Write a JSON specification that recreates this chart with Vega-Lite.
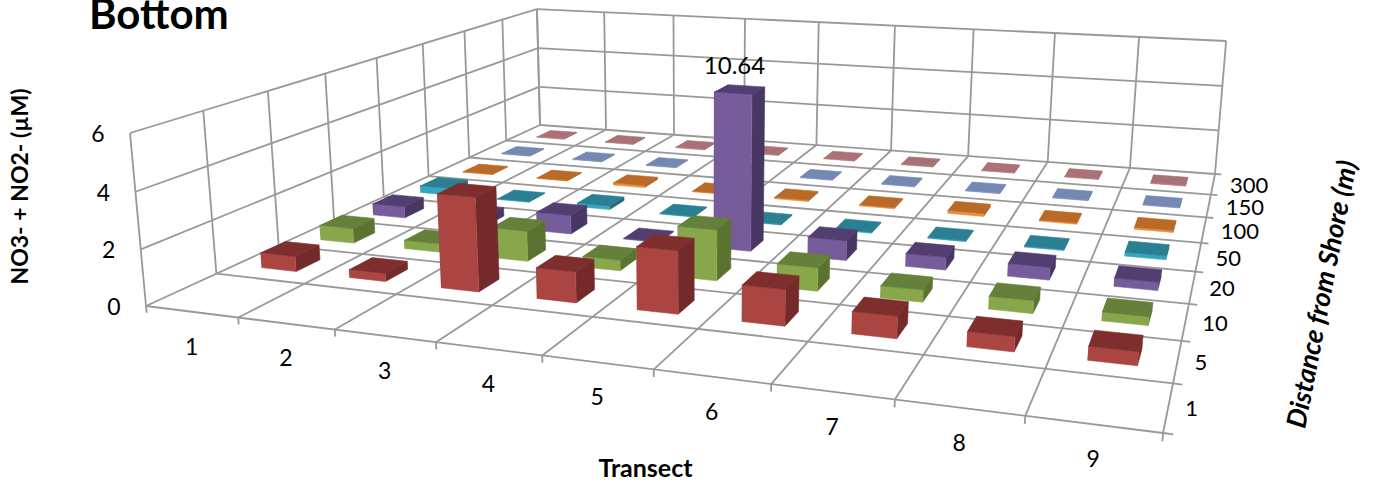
{
  "$schema": "https://vega.github.io/schema/vega-lite/v6.json",
  "width": 1377,
  "height": 482,
  "padding": 0,
  "autosize": {"type": "none"},
  "background": "white",
  "config": {"view": {"stroke": null}, "font": "Lato"},
  "datasets": {
    "bars": [
      {"transect":1,"distance":300,"value":0.03},{"transect":2,"distance":300,"value":0.03},{"transect":3,"distance":300,"value":0.03},{"transect":4,"distance":300,"value":0.03},{"transect":5,"distance":300,"value":0.03},{"transect":6,"distance":300,"value":0.03},{"transect":7,"distance":300,"value":0.03},{"transect":8,"distance":300,"value":0.03},{"transect":9,"distance":300,"value":0.03},
      {"transect":1,"distance":150,"value":0.03},{"transect":2,"distance":150,"value":0.03},{"transect":3,"distance":150,"value":0.03},{"transect":4,"distance":150,"value":0.03},{"transect":5,"distance":150,"value":0.03},{"transect":6,"distance":150,"value":0.03},{"transect":7,"distance":150,"value":0.03},{"transect":8,"distance":150,"value":0.03},{"transect":9,"distance":150,"value":0.03},
      {"transect":1,"distance":100,"value":0.03},{"transect":2,"distance":100,"value":0.03},{"transect":3,"distance":100,"value":0.1},{"transect":4,"distance":100,"value":0.03},{"transect":5,"distance":100,"value":0.06},{"transect":6,"distance":100,"value":0.05},{"transect":7,"distance":100,"value":0.12},{"transect":8,"distance":100,"value":0.05},{"transect":9,"distance":100,"value":0.08},
      {"transect":1,"distance":50,"value":0.3},{"transect":2,"distance":50,"value":0.03},{"transect":3,"distance":50,"value":0.15},{"transect":4,"distance":50,"value":0.03},{"transect":5,"distance":50,"value":0.03},{"transect":6,"distance":50,"value":0.04},{"transect":7,"distance":50,"value":0.04},{"transect":8,"distance":50,"value":0.04},{"transect":9,"distance":50,"value":0.15},
      {"transect":1,"distance":20,"value":0.47},{"transect":2,"distance":20,"value":0.35},{"transect":3,"distance":20,"value":0.75},{"transect":4,"distance":20,"value":0.03},{"transect":5,"distance":20,"value":10.64},{"transect":6,"distance":20,"value":0.75},{"transect":7,"distance":20,"value":0.48},{"transect":8,"distance":20,"value":0.47},{"transect":9,"distance":20,"value":0.3},
      {"transect":1,"distance":10,"value":0.58},{"transect":2,"distance":10,"value":0.32},{"transect":3,"distance":10,"value":1.15},{"transect":4,"distance":10,"value":0.4},{"transect":5,"distance":10,"value":1.87},{"transect":6,"distance":10,"value":0.85},{"transect":7,"distance":10,"value":0.43},{"transect":8,"distance":10,"value":0.45},{"transect":9,"distance":10,"value":0.3},
      {"transect":1,"distance":5,"value":0.57},{"transect":2,"distance":5,"value":0.3},{"transect":3,"distance":5,"value":3.4},{"transect":4,"distance":5,"value":1.1},{"transect":5,"distance":5,"value":2.2},{"transect":6,"distance":5,"value":1.25},{"transect":7,"distance":5,"value":0.75},{"transect":8,"distance":5,"value":0.5},{"transect":9,"distance":5,"value":0.45}
    ],
    "gridlines": [
      {"family":"floorT","tick":0},{"family":"floorT","tick":1},{"family":"floorT","tick":2},{"family":"floorT","tick":3},{"family":"floorT","tick":4},{"family":"floorT","tick":5},{"family":"floorT","tick":6},{"family":"floorT","tick":7},{"family":"floorT","tick":8},{"family":"floorT","tick":9},
      {"family":"floorD","tick":0},{"family":"floorD","tick":1},{"family":"floorD","tick":2},{"family":"floorD","tick":3},{"family":"floorD","tick":4},{"family":"floorD","tick":5},{"family":"floorD","tick":6},{"family":"floorD","tick":7},{"family":"floorD","tick":8},
      {"family":"leftD","tick":0},{"family":"leftD","tick":1},{"family":"leftD","tick":2},{"family":"leftD","tick":3},{"family":"leftD","tick":4},{"family":"leftD","tick":5},{"family":"leftD","tick":6},{"family":"leftD","tick":7},{"family":"leftD","tick":8},
      {"family":"leftZ","tick":2},{"family":"leftZ","tick":4},{"family":"leftZ","tick":6},
      {"family":"backZ","tick":2},{"family":"backZ","tick":4},{"family":"backZ","tick":6},
      {"family":"backT","tick":0},{"family":"backT","tick":1},{"family":"backT","tick":2},{"family":"backT","tick":3},{"family":"backT","tick":4},{"family":"backT","tick":5},{"family":"backT","tick":6},{"family":"backT","tick":7},{"family":"backT","tick":8},{"family":"backT","tick":9},
      {"family":"tickT","tick":0},{"family":"tickT","tick":1},{"family":"tickT","tick":2},{"family":"tickT","tick":3},{"family":"tickT","tick":4},{"family":"tickT","tick":5},{"family":"tickT","tick":6},{"family":"tickT","tick":7},{"family":"tickT","tick":8},{"family":"tickT","tick":9},
      {"family":"tickD","tick":0},{"family":"tickD","tick":1},{"family":"tickD","tick":2},{"family":"tickD","tick":3},{"family":"tickD","tick":4},{"family":"tickD","tick":5},{"family":"tickD","tick":6},{"family":"tickD","tick":7},{"family":"tickD","tick":8}
    ]
  },
  "encoding": {
    "x": {"field": "sx", "type": "quantitative", "scale": {"domain": [0, 1377], "nice": false, "zero": false},
      "axis": {"orient": "bottom", "domain": false, "ticks": false, "labels": false, "grid": false, "title": "Transect", "titleX": 645, "titleY": -14, "titleFont": "Lato", "titleFontSize": 25, "titleFontWeight": "bold", "titleColor": "#000000", "titleAnchor": "middle", "titleAlign": "center", "titleBaseline": "middle"}},
    "y": {"field": "sy", "type": "quantitative", "scale": {"domain": [482, 0], "nice": false, "zero": false},
      "axis": {"orient": "left", "domain": false, "ticks": false, "labels": false, "grid": false, "title": "NO3- + NO2- (µM)", "titleX": 20, "titleY": 186, "titleFont": "Lato", "titleFontSize": 23, "titleFontWeight": "bold", "titleColor": "#000000", "titleAngle": -90, "titleAlign": "center", "titleBaseline": "middle"}}
  },
  "layer": [
    {
      "data": {"name": "gridlines"},
      "transform": [
        {"calculate": "[0, 1]", "as": "end"},
        {"flatten": ["end"]},
        {"calculate": "datum.family == 'floorT' || datum.family == 'backT' || datum.family == 'tickT' ? datum.tick / 9 : datum.family == 'floorD' || datum.family == 'backZ' ? datum.end : datum.family == 'tickD' ? 1 + 0.008 * datum.end : 0", "as": "u"},
        {"calculate": "datum.family == 'floorT' || datum.family == 'leftZ' ? datum.end : datum.family == 'backZ' || datum.family == 'backT' ? 1 : datum.family == 'tickT' ? 0 : datum.tick / 8", "as": "v"},
        {"calculate": "datum.family == 'leftD' || datum.family == 'backT' ? datum.end : datum.family == 'leftZ' || datum.family == 'backZ' ? datum.tick / 6 : datum.family == 'tickT' ? -0.04 * datum.end : 0", "as": "s"},
        {"calculate": "-0.20235 * datum.u + 0.52226 * datum.v + 1 - 0.028 * datum.s", "as": "w"},
        {"calculate": "(781.7 * datum.u + 676 * datum.v + 146 - 19.64 * datum.s) / datum.w", "as": "sx"},
        {"calculate": "(39.38 * datum.u - 115.72 * datum.v + 306 - 176.72 * datum.s) / datum.w", "as": "sy"},
        {"calculate": "datum.family + datum.tick", "as": "segment"}
      ],
      "mark": {"type": "line", "stroke": "#999999", "strokeWidth": 1.8, "clip": false},
      "encoding": {"detail": {"field": "segment"}, "order": {"field": "end"}}
    },
    {
      "data": {"name": "bars"},
      "transform": [
        {"calculate": "datum.transect - 1", "as": "i"},
        {"calculate": "indexof([1, 5, 10, 20, 50, 100, 150, 300], datum.distance)", "as": "d"},
        {"calculate": "['side', 'front', 'top']", "as": "face"},
        {"flatten": ["face"]},
        {"calculate": "[0, 1, 2, 3]", "as": "corner"},
        {"flatten": ["corner"]},
        {"calculate": "min(datum.value, 6) / 6", "as": "h"},
        {"calculate": "(datum.i + (datum.face == 'side' || datum.corner == 1 || datum.corner == 2 ? 0.7 : 0.3)) / 9", "as": "u"},
        {"calculate": "(datum.d + (datum.face == 'front' ? 0.3 : datum.face == 'side' ? (datum.corner == 1 || datum.corner == 2 ? 0.7 : 0.3) : (datum.corner >= 2 ? 0.7 : 0.3))) / 8", "as": "v"},
        {"calculate": "datum.face == 'top' || datum.corner >= 2 ? datum.h : 0", "as": "s"},
        {"calculate": "-0.20235 * datum.u + 0.52226 * datum.v + 1 - 0.028 * datum.s", "as": "w"},
        {"calculate": "(781.7 * datum.u + 676 * datum.v + 146 - 19.64 * datum.s) / datum.w", "as": "sx"},
        {"calculate": "(39.38 * datum.u - 115.72 * datum.v + 306 - 176.72 * datum.s) / datum.w", "as": "sy"},
        {"calculate": "datum.distance + ' ' + datum.face", "as": "tone"},
        {"calculate": "datum.transect + '-' + datum.distance + '-' + datum.face", "as": "panel"}
      ],
      "mark": {"type": "line", "strokeWidth": 0.6, "strokeJoin": "round"},
      "encoding": {
        "detail": {"field": "panel"},
        "order": {"field": "corner"},
        "fill": {"field": "tone", "type": "nominal", "legend": null, "scale": {
          "domain": ["5 side","5 front","5 top","10 side","10 front","10 top","20 side","20 front","20 top","50 side","50 front","50 top","100 side","100 front","100 top","150 side","150 front","150 top","300 side","300 front","300 top"],
          "range": ["#742A2A","#AB4542","#7F2E2E","#5B7330","#88A74A","#64803A","#483663","#775C9C","#533E72","#23687A","#35A5C0","#2B7F92","#B0621F","#EE8C3C","#B96A27","#6B7EA5","#8A9CC8","#7488B1","#9A686C","#C98D90","#A87276"]}},
        "stroke": {"field": "tone", "type": "nominal", "legend": null, "scale": {
          "domain": ["5 side","5 front","5 top","10 side","10 front","10 top","20 side","20 front","20 top","50 side","50 front","50 top","100 side","100 front","100 top","150 side","150 front","150 top","300 side","300 front","300 top"],
          "range": ["#742A2A","#AB4542","#7F2E2E","#5B7330","#88A74A","#64803A","#483663","#775C9C","#533E72","#23687A","#35A5C0","#2B7F92","#B0621F","#EE8C3C","#B96A27","#6B7EA5","#8A9CC8","#7488B1","#9A686C","#C98D90","#A87276"]}}
      }
    },
    {
      "data": {"name": "bars"},
      "transform": [
        {"filter": "datum.value > 6"},
        {"calculate": "(datum.transect - 0.5) / 9", "as": "u"},
        {"calculate": "(indexof([1, 5, 10, 20, 50, 100, 150, 300], datum.distance) + 0.5) / 8", "as": "v"},
        {"calculate": "1", "as": "s"},
        {"calculate": "-0.20235 * datum.u + 0.52226 * datum.v + 1 - 0.028 * datum.s", "as": "w"},
        {"calculate": "(781.7 * datum.u + 676 * datum.v + 146 - 19.64 * datum.s) / datum.w", "as": "sx"},
        {"calculate": "(39.38 * datum.u - 115.72 * datum.v + 306 - 176.72 * datum.s) / datum.w", "as": "sy"}
      ],
      "mark": {"type": "text", "font": "Lato", "fontSize": 24, "color": "#000000", "dx": -5, "dy": -22, "align": "center", "baseline": "middle"},
      "encoding": {"text": {"field": "value", "type": "quantitative", "format": ".2f"}}
    },
    {
      "data": {"values": [{"label":"1"},{"label":"2"},{"label":"3"},{"label":"4"},{"label":"5"},{"label":"6"},{"label":"7"},{"label":"8"},{"label":"9"}]},
      "transform": [
        {"calculate": "(toNumber(datum.label) - 0.5) / 9", "as": "u"},
        {"calculate": "-0.20235 * datum.u + 1", "as": "w"},
        {"calculate": "(781.7 * datum.u + 146) / datum.w", "as": "sx"},
        {"calculate": "(39.38 * datum.u + 306) / datum.w", "as": "sy"}
      ],
      "mark": {"type": "text", "font": "Lato", "fontSize": 23, "color": "#000000", "dx": 0, "dy": 36, "align": "center", "baseline": "middle"},
      "encoding": {"text": {"field": "label"}}
    },
    {
      "data": {"values": [{"label":"1","band":0},{"label":"5","band":1},{"label":"10","band":2},{"label":"20","band":3},{"label":"50","band":4},{"label":"100","band":5},{"label":"150","band":6},{"label":"300","band":7}]},
      "transform": [
        {"calculate": "(datum.band + 0.5) / 8", "as": "v"},
        {"calculate": "0.79765 + 0.52226 * datum.v", "as": "w"},
        {"calculate": "(927.7 + 676 * datum.v) / datum.w", "as": "sx"},
        {"calculate": "(345.38 - 115.72 * datum.v) / datum.w", "as": "sy"}
      ],
      "mark": {"type": "text", "font": "Lato", "fontSize": 22, "color": "#000000", "dx": 17, "dy": 2, "align": "left", "baseline": "middle"},
      "encoding": {"text": {"field": "label"}}
    },
    {
      "data": {"values": [{"label":"0","level":0},{"label":"2","level":2},{"label":"4","level":4},{"label":"6","level":6}]},
      "transform": [
        {"calculate": "datum.level / 6", "as": "s"},
        {"calculate": "1 - 0.028 * datum.s", "as": "w"},
        {"calculate": "(146 - 19.64 * datum.s) / datum.w", "as": "sx"},
        {"calculate": "(306 - 176.72 * datum.s) / datum.w", "as": "sy"}
      ],
      "mark": {"type": "text", "font": "Lato", "fontSize": 23, "color": "#000000", "dx": -32, "dy": 2, "align": "center", "baseline": "middle"},
      "encoding": {"text": {"field": "label"}}
    },
    {
      "data": {"values": [{"label": "Distance from Shore  (m)"}]},
      "transform": [
        {"calculate": "0.3", "as": "v"},
        {"calculate": "0.79765 + 0.52226 * datum.v", "as": "w"},
        {"calculate": "(927.7 + 676 * datum.v) / datum.w", "as": "sx"},
        {"calculate": "(345.38 - 115.72 * datum.v) / datum.w", "as": "sy"}
      ],
      "mark": {"type": "text", "font": "Lato", "fontSize": 27, "fontWeight": "bold", "fontStyle": "italic", "color": "#000000", "angle": 281, "dx": 57, "dy": 130, "align": "center", "baseline": "middle"},
      "encoding": {"text": {"field": "label"}}
    },
    {
      "data": {"values": [{"label": "Bottom"}]},
      "transform": [
        {"calculate": "1 - 0.028", "as": "w"},
        {"calculate": "(146 - 19.64) / datum.w", "as": "sx"},
        {"calculate": "(306 - 176.72) / datum.w", "as": "sy"}
      ],
      "mark": {"type": "text", "font": "Lato", "fontSize": 42, "fontWeight": "bold", "color": "#000000", "dx": -41, "dy": -104, "align": "left", "baseline": "alphabetic"},
      "encoding": {"text": {"field": "label"}}
    }
  ]
}
